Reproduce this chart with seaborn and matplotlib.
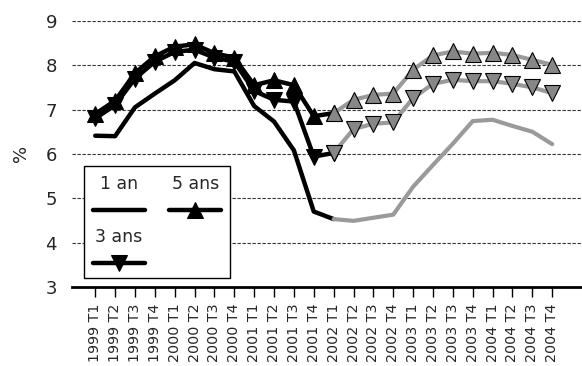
import numpy as np
import pandas as pd
import matplotlib
matplotlib.use("Agg")
import matplotlib.pyplot as plt
from matplotlib.offsetbox import VPacker
import seaborn as sns

# trimestres
periodes = ["1999 T1", "1999 T2", "1999 T3", "1999 T4",
            "2000 T1", "2000 T2", "2000 T3", "2000 T4",
            "2001 T1", "2001 T2", "2001 T3", "2001 T4",
            "2002 T1", "2002 T2", "2002 T3", "2002 T4",
            "2003 T1", "2003 T2", "2003 T3", "2003 T4",
            "2004 T1", "2004 T2", "2004 T3", "2004 T4"]

# taux en %
taux_1an = [6.41, 6.40, 7.05, 7.36, 7.66, 8.05, 7.91, 7.86,
            7.08, 6.73, 6.08, 4.70, 4.53, 4.49, 4.56, 4.63,
            5.26, 5.75, 6.23, 6.74, 6.77, 6.63, 6.50, 6.22]
taux_3ans = [6.80, 7.10, 7.70, 8.08, 8.30, 8.35, 8.17, 8.08,
             7.42, 7.22, 7.18, 5.94, 6.02, 6.56, 6.68, 6.71,
             7.26, 7.58, 7.67, 7.64, 7.64, 7.58, 7.50, 7.37]
taux_5ans = [6.90, 7.20, 7.82, 8.20, 8.42, 8.47, 8.27, 8.17,
             7.55, 7.66, 7.55, 6.85, 6.92, 7.22, 7.33, 7.36,
             7.90, 8.22, 8.31, 8.26, 8.28, 8.23, 8.12, 8.01]

# observe jusqu'a 2002 T1, prevision ensuite
fin_obs = 12

series = [("1 an", taux_1an, None), ("3 ans", taux_3ans, "v"), ("5 ans", taux_5ans, "^")]

sns.set_style("white")
plt.rcParams['font.family'] = ['DejaVu Sans']

fig = plt.figure(figsize=(5.82, 3.66), dpi=100)
ax = fig.add_axes([0.124, 0.216, 0.876, 0.727])

idx = np.arange(len(periodes))
for nom, vals, mk in series:
    df = pd.DataFrame({"x": idx, "taux": vals})
    sns.lineplot(data=df.iloc[:fin_obs + 1], x="x", y="taux", ax=ax, color="black",
                 lw=3.2, marker=mk, ms=11, mfc="black", mec="black", label=nom)
for nom, vals, mk in series:
    df = pd.DataFrame({"x": idx, "taux": vals})
    sns.lineplot(data=df.iloc[fin_obs:], x="x", y="taux", ax=ax, color="#9a9a9a",
                 lw=3.0, marker=mk, ms=11, mfc="#878787", mec="black", mew=0.8)

ax.set_xlim(-1.16, 24.5)
ax.set_ylim(3, 9)
ax.set_yticks(range(3, 10))
ax.set_xticks(idx)
ax.set_xticklabels(periodes, rotation=90, fontsize=10.3)
ax.tick_params(axis="y", length=0, labelsize=13, pad=11)
ax.tick_params(axis="x", direction="out", length=7, width=1, color="black", pad=5, bottom=True)
ax.set_xlabel("")
ax.set_ylabel("%", fontsize=13)
ax.yaxis.set_label_coords(-0.082, 0.5)

for y in range(4, 10):
    ax.axhline(y, color="#333333", lw=0.8, ls=(0, (3, 1.5)), zorder=0)

for s in ["top", "right", "left"]:
    ax.spines[s].set_visible(False)
ax.spines["bottom"].set_linewidth(2)
ax.spines["bottom"].set_color("black")

handles, labels = ax.get_legend_handles_labels()
leg = ax.legend(handles, labels, ncol=2, loc="lower left", bbox_to_anchor=(0.0235, 0.034),
                borderaxespad=0, fontsize=12.5, handlelength=3.0, borderpad=0.5,
                columnspacing=1.4, labelspacing=0.7, frameon=True, fancybox=False)
leg.get_frame().set_edgecolor("black")
leg.get_frame().set_linewidth(1)
leg.get_frame().set_alpha(1)

# texte au-dessus de la ligne, comme dans la source
for col in leg._legend_handle_box.get_children():
    items = col.get_children()
    for i, item in enumerate(items):
        h, t = item.get_children()
        items[i] = VPacker(pad=0, sep=8, align="center", children=[t, h])

fig.savefig("out.png", dpi=100)
